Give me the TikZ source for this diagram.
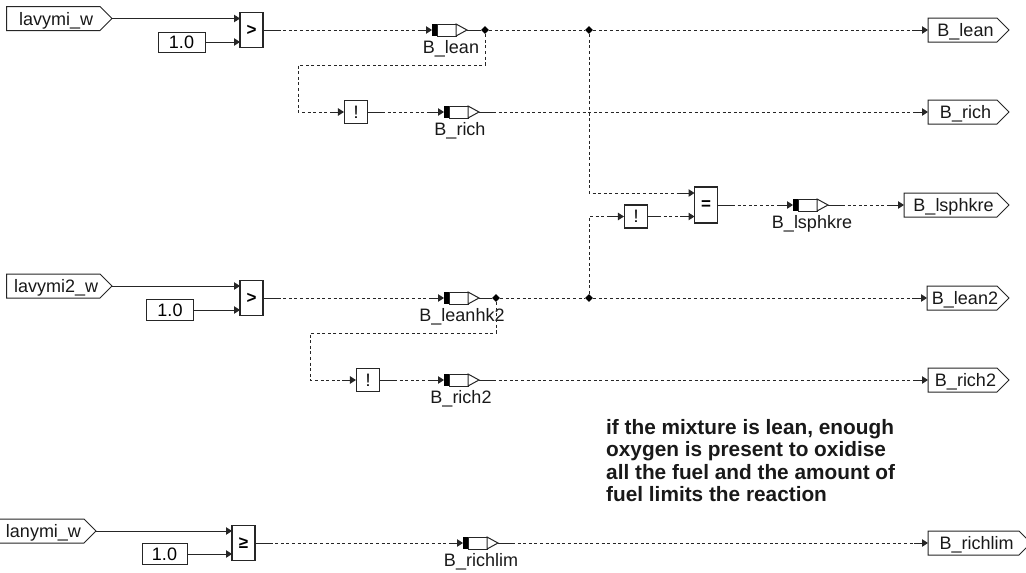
\documentclass[tikz,border=0pt]{standalone}
\usepackage{fontspec}
\setmainfont{Liberation Sans}
\usetikzlibrary{arrows.meta,shapes.geometric,calc}
\tikzset{
  x=1pt,y=-1pt,
  lbl/.style={font=\fontsize{18}{18}\selectfont,inner sep=0pt,text=black!90,anchor=base},
  flagline/.style={draw=black!85,line width=1pt,fill=white,line join=miter},
  boxn/.style={draw=black!85,line width=1pt,fill=white,inner sep=0pt,minimum width=#1,font=\fontsize{18}{18}\selectfont},
  gate/.style={draw=black!85,line width=1.1pt,fill=white,inner sep=0pt,minimum width=23pt,minimum height=#1,font=\fontsize{17}{17}\bfseries\selectfont},
  notg/.style={draw=black!85,line width=1.1pt,fill=white,inner sep=0pt,minimum width=23pt,minimum height=#1,font=\fontsize{18}{18}\selectfont},
  sig/.style={draw=black!85,line width=1pt},
  dsig/.style={sig,dash pattern=on 3pt off 2.6pt},
  arr/.style={sig,-{Triangle[length=6pt,width=7.5pt]}},
  dot/.style={diamond,fill=black,inner sep=0pt,minimum size=8pt},
}
% input/output flag: \flagshape{name}{left}{right}{cy}{text}
\newcommand{\flagshape}[5]{%
  \draw[flagline] (#2,#4-12) -- (#3-12,#4-12) -- (#3,#4) -- (#3-12,#4+12) -- (#2,#4+12) -- cycle;
  \node[lbl] (#1) at ({(#2+#3-6)/2},#4+6.5) {#5};
  \coordinate (#1L) at (#2,#4);
  \coordinate (#1R) at (#3,#4);}
% register: \regshape{name}{black-left}{cy}{label x}{label}
\newcommand{\regshape}[5]{%
  \coordinate (#1L) at (#2,#3);
  \coordinate (#1R) at (#2+35,#3);
  \draw[black!85,line width=1pt,fill=white] (#2+5,#3-6) rectangle (#2+24,#3+6);
  \fill[black] (#2,#3-6) rectangle (#2+5,#3+6);
  \draw[black!85,line width=1pt,fill=white] (#2+24,#3-6) -- (#2+35,#3) -- (#2+24,#3+6) -- cycle;
  \node[lbl] (#1T) at (#4,#3+23) {#5};}
% connector with solid ends and dashed middle
\newcommand{\wire}[2]{%
  \draw[sig] (#1) -- ++(14,0);
  \draw[dsig] ($(#1)+(14,0)$) -- ($(#2)+(-14,0)$);
  \draw[arr] ($(#2)+(-14,0)$) -- (#2);}
\begin{document}
\begin{tikzpicture}
\useasboundingbox (0,0) rectangle (1026,573);
% flags
\flagshape{i1}{6.5}{112}{18.5}{lavymi\_w}
\flagshape{i2}{6.5}{112}{286}{lavymi2\_w}
\flagshape{i3}{-3}{96}{531}{lanymi\_w}
\flagshape{o1}{928}{1009}{30}{B\_lean}
\flagshape{o2}{928}{1009}{112}{B\_rich}
\flagshape{o3}{904}{1009}{205}{B\_lsphkre}
\flagshape{o4}{927}{1009}{298}{B\_lean2}
\flagshape{o5}{928}{1009}{380}{B\_rich2}
\flagshape{o6}{928}{1031}{543}{B\_richlim}
% constants
\node[boxn=47pt,minimum height=20pt] (c1) at (181.5,42) {1.0};
\node[boxn=47pt,minimum height=21pt] (c2) at (170,310) {1.0};
\node[boxn=45pt,minimum height=21pt] (c3) at (164.5,554) {1.0};
% gates
\node[gate=35pt] (g1) at (251.5,30) {>};
\node[gate=35pt] (g2) at (251.5,298) {>};
\node[gate=35pt] (g3) at (243.5,543) {≥};
\node[gate=36pt] (g4) at (706,205) {=};
\node[notg=23pt] (n1) at (356,112) {!};
\node[notg=23pt] (n2) at (636,216.5) {!};
\node[notg=23pt] (n3) at (368,380) {!};
% registers
\regshape{r1}{432}{30}{451}{B\_lean}
\regshape{r2}{444}{112}{460}{B\_rich}
\regshape{r3}{793}{205}{812}{B\_lsphkre}
\regshape{r4}{444}{298}{462}{B\_leanhk2}
\regshape{r5}{444}{380}{461}{B\_rich2}
\regshape{r6}{463}{543}{481}{B\_richlim}
% junctions
\node[dot] (j1) at (485,30) {};
\node[dot] (j2) at (589,30) {};
\node[dot] (j3) at (496,298) {};
\node[dot] (j4) at (589,298) {};
% solid inputs
\draw[arr] (i1R) -- (240,18.5);
\draw[arr] (c1.east) -- (240,42);
\draw[arr] (i2R) -- (240,286);
\draw[arr] (c2.east) -- (240,310);
\draw[arr] (i3R) -- (232,531);
\draw[arr] (c3.east) -- (232,554);
% gate to register
\wire{g1.east}{r1L}
\wire{g2.east}{r4L}
\wire{g3.east}{r6L}
\wire{n1.east}{r2L}
\wire{n3.east}{r5L}
\wire{g4.east}{r3L}
% register to junction
\draw[sig] (r1R) -- (j1);
\draw[sig] (r4R) -- (j3);
% trunk
\draw[dsig] (j1) -- (j2);
\draw[dsig] (j3) -- (j4);
\draw[dsig] (j2) -- ($(o1L)+(-14,0)$);
\draw[arr] ($(o1L)+(-14,0)$) -- (o1L);
\draw[dsig] (j4) -- ($(o4L)+(-14,0)$);
\draw[arr] ($(o4L)+(-14,0)$) -- (o4L);
% register to output
\wire{r2R}{o2L}
\wire{r3R}{o3L}
\wire{r5R}{o5L}
\wire{r6R}{o6L}
% feedback branches
\coordinate (b1) at (485,65);
\coordinate (b2) at (298,65);
\coordinate (b3) at (298,112);
\draw[dsig] (j1) -- (b1) -- (b2) -- (b3) -- ($(n1.west)+(-14,0)$);
\draw[arr] ($(n1.west)+(-14,0)$) -- (n1.west);
\coordinate (b4) at (496,333);
\coordinate (b5) at (310,333);
\coordinate (b6) at (310,380);
\draw[dsig] (j3) -- (b4) -- (b5) -- (b6) -- ($(n3.west)+(-14,0)$);
\draw[arr] ($(n3.west)+(-14,0)$) -- (n3.west);
% xor inputs
\coordinate (x1) at (589,193);
\draw[dsig] (j2) -- (x1) -- (680,193);
\draw[arr] (680,193) -- (694.5,193);
\coordinate (x2) at (589,216.5);
\draw[dsig] (j4) -- (x2) -- (610,216.5);
\draw[arr] (610,216.5) -- (n2.west);
\draw[sig] (n2.east) -- ++(10,0);
\draw[dsig] (658,216.5) -- (680,216.5);
\draw[arr] (680,216.5) -- (694.5,216.5);
% comment
\node[font=\fontsize{20.8}{22.2}\bfseries\selectfont,align=left,anchor=north west,inner sep=0pt,text=black!90] (note) at (606,419.5)
 {if the mixture is lean, enough\\oxygen is present to oxidise\\all the fuel and the amount of\\fuel limits the reaction};
\end{tikzpicture}
\end{document}
